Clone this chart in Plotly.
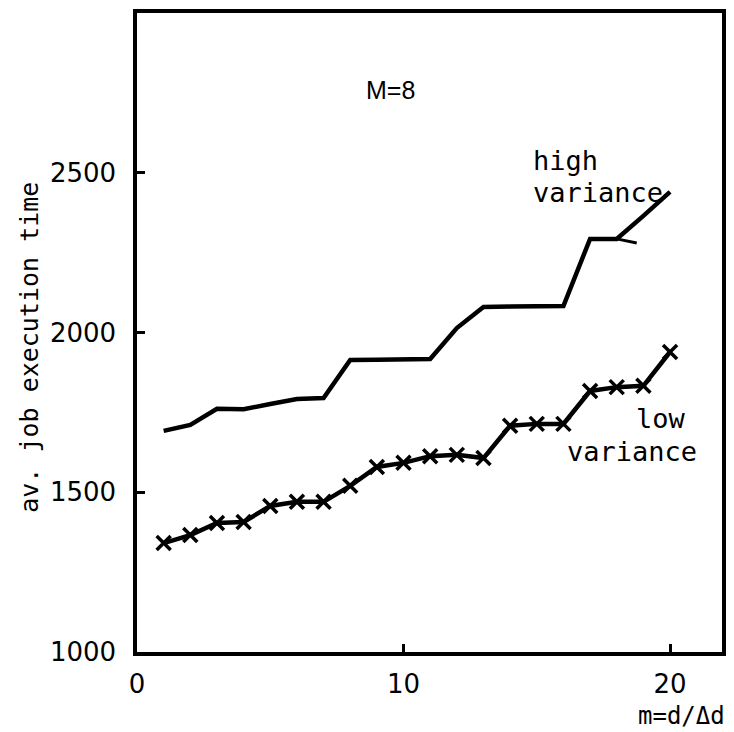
import plotly.graph_objects as go

# m = d / delta-d
m_values = list(range(1, 21))

# average job execution time, M = 8
high_variance = [1692, 1711, 1761, 1760, 1776, 1792, 1795, 1914, 1915, 1916,
                 1917, 2014, 2080, 2081, 2082, 2083, 2293, 2293, 2365, 2440]
low_variance = [1341, 1366, 1404, 1407, 1457, 1470, 1470, 1520, 1579, 1592,
                1613, 1617, 1607, 1708, 1714, 1714, 1817, 1829, 1833, 1939]

# short overshoot of the pen stroke on the high-variance curve
stub_x = [18, 18.75]
stub_y = [2293, 2280]

x_ticks = [0, 10, 20]
y_ticks = [1000, 1500, 2000, 2500]

INK = "#000000"
MONO = "DejaVu Sans Mono"
SANS = "Liberation Sans"
TICK_FONT = "DejaVu Sans"

fig = go.Figure()

fig.add_trace(go.Scatter(
    x=m_values, y=high_variance, mode="lines",
    line=dict(color=INK, width=4.5), name="high variance", showlegend=False,
))
fig.add_trace(go.Scatter(
    x=stub_x, y=stub_y, mode="lines",
    line=dict(color=INK, width=3), showlegend=False, hoverinfo="skip",
))
fig.add_trace(go.Scatter(
    x=m_values, y=low_variance, mode="lines+markers",
    line=dict(color=INK, width=4.5),
    marker=dict(symbol="x-thin-open", size=14, color=INK,
                line=dict(color=INK, width=3.5)),
    name="low variance", showlegend=False,
))

# plot area in pixels
L, R, T, B = 137, 726, 13, 652


def px(xp, yp):
    return (xp - L) / (R - L), (B - yp) / (B - T)


def label(text, xp, yp, size, family, xanchor="left", angle=0):
    x, y = px(xp, yp)
    fig.add_annotation(
        x=x, y=y, xref="paper", yref="paper", text=text, showarrow=False,
        xanchor=xanchor, yanchor="middle", textangle=angle,
        font=dict(size=size, family=family, color=INK),
    )


label("M=8", 392, 90, 25, SANS, xanchor="center")
label("high", 534, 160, 27, MONO)
label("variance", 534, 193, 27, MONO)
label("low", 637, 418, 27, MONO)
label("variance", 568, 452, 27, MONO)
label("av. job execution time", 28, 347, 25, MONO, xanchor="center", angle=-90)
label("m=d/Δd", 731, 716, 24, MONO, xanchor="right")

axis_common = dict(
    showgrid=False, zeroline=False, showline=True, linecolor=INK, linewidth=3.5,
    mirror=True, ticks="inside", tickcolor=INK, tickwidth=3, ticklen=8,
    tickfont=dict(size=26, family=TICK_FONT, color=INK),
)

fig.update_xaxes(range=[0, 21.95], tickvals=x_ticks,
                 ticktext=[str(v) for v in x_ticks],
                 ticklabelstandoff=6, **axis_common)
fig.update_yaxes(range=[1000, 3000], tickvals=y_ticks,
                 ticktext=[str(v) for v in y_ticks],
                 ticklabelstandoff=12, **axis_common)

fig.update_layout(
    width=734, height=732,
    margin=dict(l=L, r=734 - R, t=T, b=732 - B),
    paper_bgcolor="white", plot_bgcolor="white",
)

fig.write_html("out.html")
